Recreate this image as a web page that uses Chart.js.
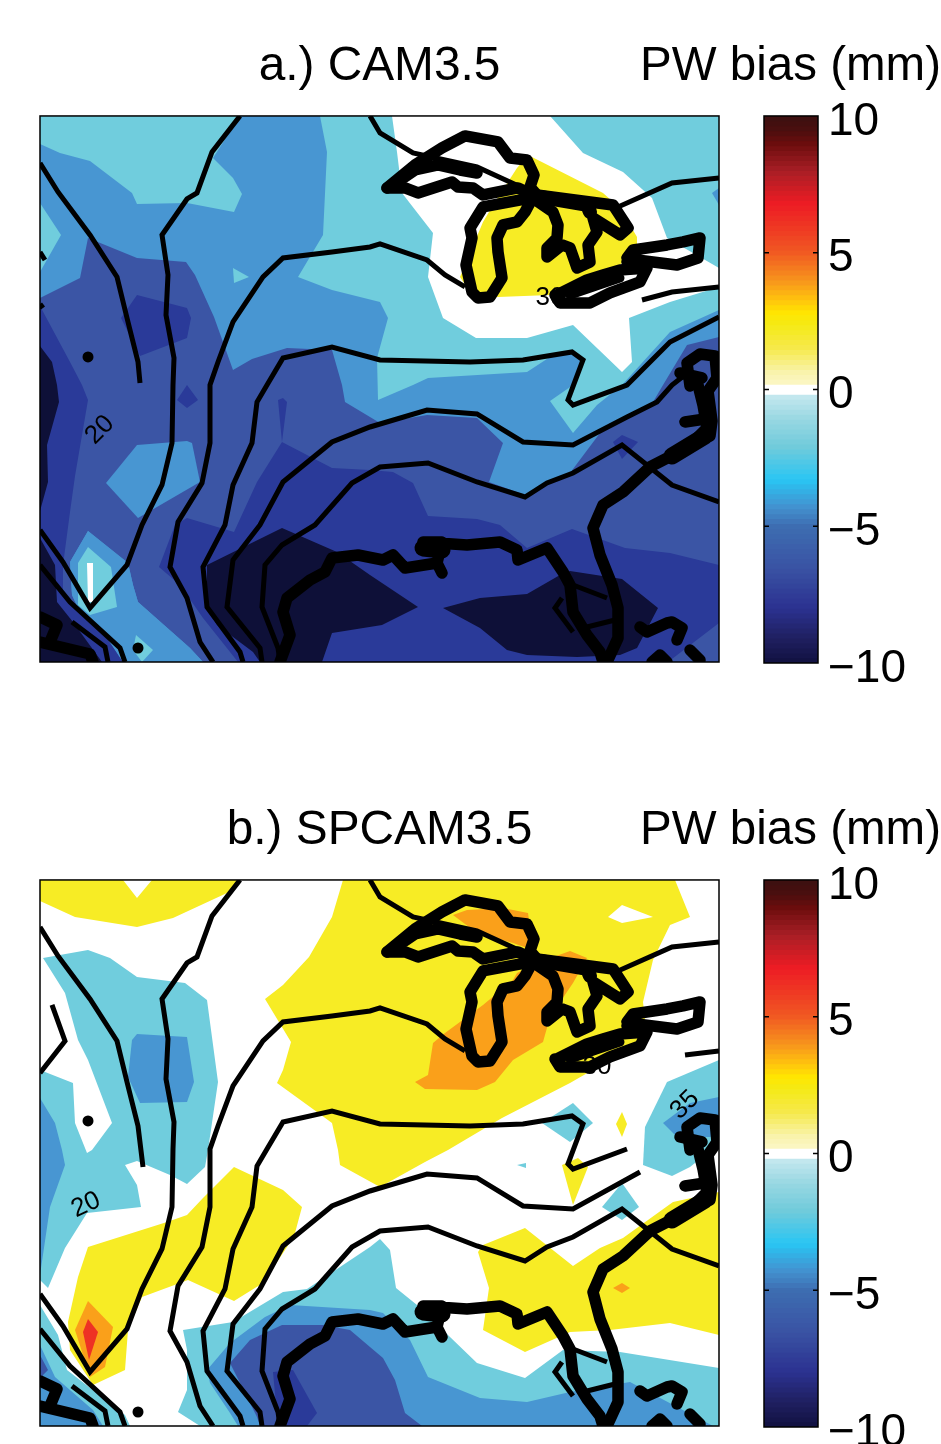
<!DOCTYPE html>
<html><head><meta charset="utf-8">
<script src="https://cdn.jsdelivr.net/npm/chart.js@4"></script>
<style>html,body{margin:0;padding:0;background:#fff;width:941px;height:1444px;overflow:hidden}
canvas{position:absolute;display:block}</style></head><body>
<canvas id="mapA" width="760" height="700" style="left:0;top:0"></canvas>
<canvas id="barA" width="301" height="720" style="left:640px;top:0"></canvas>
<canvas id="mapB" width="760" height="680" style="left:0;top:764px"></canvas>
<canvas id="barB" width="301" height="720" style="left:640px;top:764px"></canvas>
<script>
// ---------- PW bias filled regions, in map units (0-679 east, 0-546 south) ----------
const frame=[[0,0],[679,0],[679,546],[0,546]];
// panel a
const aWhite=[[352,0],[357,36],[362,77],[393,117],[388,161],[403,202],[436,222],[487,222],[533,209],[582,256],[592,246],[589,202],[630,186],[679,171],[679,152],[627,122],[612,82],[583,56],[543,37],[510,0]];
const aYellow=[[488,39],[563,77],[580,92],[597,121],[597,132],[583,146],[547,176],[510,179],[458,181],[430,176],[420,161],[443,106],[455,86],[477,52]];
const aBlue=[[200,0],[173,42],[193,62],[202,78],[194,96],[147,87],[97,88],[92,77],[50,45],[20,37],[0,28],[0,546],[679,546],[679,194],[630,216],[582,269],[557,289],[533,317],[510,285],[533,269],[543,244],[533,237],[510,241],[487,256],[388,262],[373,269],[338,284],[337,242],[348,202],[340,186],[292,174],[258,161],[283,119],[287,36],[280,0]];
const aBlueEdge=[[679,72],[672,77],[679,89]];
const aCyanLeft=[[0,87],[21,119],[0,156]];
const aCyanChip=[[193,152],[209,161],[194,167]];
const aMid=[[0,182],[40,162],[48,122],[97,142],[146,146],[155,159],[174,201],[193,254],[212,243],[247,232],[292,234],[302,269],[305,286],[340,307],[387,299],[437,302],[463,327],[449,366],[485,379],[530,357],[560,317],[613,286],[623,269],[647,229],[679,221],[679,546],[0,546]];
const aBlueSw=[[48,415],[88,447],[93,469],[98,486],[150,532],[163,546],[83,546],[67,522],[40,496],[32,479],[30,446]];
const aBlueCentre=[[97,329],[147,325],[152,327],[160,366],[98,402],[66,367]];
const aCyanDiamond=[[48,431],[71,451],[77,491],[50,499],[38,489],[38,447]];
const aWhiteStreak=[[47,447],[53,447],[53,486],[48,486]];
const aCyanSmall=[[96,519],[113,534],[102,546],[93,534]];
const aDeepWest=[[0,190],[30,246],[42,269],[48,284],[35,360],[30,396],[23,449],[23,480],[60,510],[83,546],[0,546]];
const aDeepIsle=[[97,179],[147,192],[151,202],[147,222],[100,240],[81,202]];
const aDeepChip1=[[147,269],[158,284],[147,292],[137,284]];
const aDeepChip2=[[238,284],[243,282],[247,286],[242,326]];
const aDeepChip3=[[573,326],[582,319],[598,326],[582,343]];
const aDeepMain=[[242,326],[292,352],[330,354],[353,356],[373,367],[388,400],[437,403],[460,409],[487,432],[532,413],[585,432],[630,437],[679,449],[679,507],[628,546],[198,546],[163,502],[140,469],[119,451],[135,409],[147,402],[194,416],[217,366]];
const aNavyWest1=[[0,230],[12,246],[17,269],[19,286],[7,329],[8,366],[0,395]];
const aNavyWest2=[[0,422],[15,449],[17,486],[33,506],[62,546],[0,546]];
const aNavyGulf=[[167,449],[242,412],[297,436],[330,459],[378,491],[342,509],[292,517],[282,546],[220,546],[213,536],[177,509],[167,492]];
const aNavyFlorida=[[403,492],[440,482],[487,478],[520,459],[530,455],[582,463],[618,492],[597,532],[580,539],[537,541],[487,539],[467,534],[440,512]];
// panel b
const bYellowNw=[[0,0],[83,0],[97,18],[112,0],[200,0],[187,13],[133,38],[97,47],[35,37],[0,21]];
const bYellowNorth=[[303,0],[292,37],[269,77],[243,105],[225,119],[251,162],[243,190],[237,203],[277,232],[292,243],[298,270],[300,285],[340,307],[385,282],[408,270],[462,238],[530,203],[570,180],[607,157],[603,122],[613,80],[630,45],[650,37],[635,0]];
const bWhiteChip=[[568,37],[582,25],[613,37],[582,43]];
const bOrangeMain=[[375,202],[388,195],[393,163],[405,153],[443,125],[473,100],[477,93],[497,83],[530,71],[547,78],[533,103],[510,137],[503,162],[473,180],[455,202],[437,210],[385,209]];
const bOrangeTop=[[413,35],[427,30],[463,28],[488,33],[490,47],[497,60],[487,68],[473,63],[437,53]];
const bCyanWest=[[3,78],[48,70],[70,78],[97,97],[145,103],[167,120],[178,202],[168,270],[165,287],[147,304],[130,295],[97,281],[85,285],[97,305],[101,327],[47,333],[25,368],[8,408],[0,400],[0,190],[33,203],[35,243],[47,273],[52,270],[72,243],[48,180],[38,160],[25,113]];
const bBlueWest=[[97,154],[147,157],[154,202],[147,222],[100,223],[88,197],[92,160]];
const bBlueEdge=[[0,218],[15,243],[22,270],[25,285],[10,327],[0,395]];
const bYellowSw=[[48,367],[127,342],[147,335],[163,318],[194,287],[243,310],[262,327],[255,353],[247,367],[223,403],[194,421],[148,400],[102,417],[88,450],[85,490],[53,505],[30,470],[28,442],[38,397]];
const bOrangeSw=[[48,421],[73,447],[65,487],[50,497],[35,450]];
const bRedSw=[[48,439],[58,452],[49,480],[43,452]];
const bCyanSouth=[[143,450],[193,442],[243,412],[267,409],[330,367],[340,359],[350,370],[356,408],[377,425],[410,457],[437,483],[485,498],[523,470],[580,472],[679,488],[679,546],[160,546],[138,532],[147,510],[147,470]];
const bBlueSouth=[[167,490],[190,463],[225,437],[250,425],[330,430],[343,433],[370,460],[388,497],[440,518],[487,522],[530,512],[590,502],[673,546],[198,546],[190,533],[170,503]];
const bMidSouth=[[190,483],[210,460],[242,445],[283,445],[310,450],[330,467],[343,478],[355,500],[365,533],[382,546],[220,546],[217,537]];
const bDeepSouth=[[233,492],[253,490],[277,533],[267,546],[238,546]];
const bCyanCorner=[[0,425],[18,455],[27,490],[85,535],[90,546],[0,546]];
const bBlueCorner=[[0,465],[15,497],[53,530],[63,546],[0,546]];
const bMidCorner=[[0,475],[8,490],[3,495],[0,505]];
const bCyanEast=[[679,180],[627,202],[605,247],[603,285],[632,296],[650,287],[665,275],[679,250]];
const bBlueEast=[[679,217],[650,223],[623,243],[637,257],[670,257],[679,254]];
const bYellowDiamond=[[582,232],[587,244],[582,257],[576,244]];
const bCyanLake=[[502,243],[533,223],[553,243],[530,262]];
const bYellowWedge=[[522,285],[533,325],[548,287],[538,278]];
const bCyanDot=[[477,285],[486,283],[486,288]];
const bCyanMid=[[582,303],[599,327],[582,340],[562,327]];
const bYellowSouth=[[443,365],[485,348],[533,386],[560,368],[583,358],[633,322],[679,312],[679,455],[630,443],[570,450],[530,452],[485,472],[443,450],[449,408],[438,372]];
const bOrangeDiamond=[[573,408],[582,403],[590,408],[582,413]];

// ---------- climatological PW contours (mm) ----------
const c20a=[[0,47],[18,76],[50,119],[77,161],[87,202],[98,246],[100,267]];
const c20b=[[0,47],[18,76],[50,119],[77,161],[87,202],[98,246],[103,287]];
const c25=[[200,0],[172,36],[157,77],[147,83],[122,119],[128,159],[126,199],[134,242],[133,269],[132,327],[122,369],[102,409],[87,449],[50,492],[23,446],[0,414]];
const c30w=[[425,171],[405,159],[387,144],[340,128],[330,131],[292,136],[243,142],[223,161],[193,206],[178,246],[170,269],[170,327],[162,367],[138,406],[130,451],[147,482],[160,526],[173,546]];
const c30n=[[330,0],[340,17],[373,37],[437,51],[483,72],[500,80],[578,91],[632,67],[679,62]];
const c35a=[[203,546],[200,536],[167,491],[163,451],[185,409],[193,369],[212,327],[217,286],[227,269],[243,242],[292,231],[340,244],[430,246],[483,244],[532,236],[543,244],[528,284],[533,289],[587,269],[630,226],[679,201]];
const c35b=[[203,546],[200,536],[167,491],[163,451],[185,409],[193,369],[212,327],[217,286],[227,269],[243,242],[292,231],[340,244],[430,246],[483,244],[532,236],[543,244],[528,284],[533,289],[587,269]];
const c40a=[[222,546],[220,532],[187,491],[193,444],[220,409],[243,366],[292,326],[330,311],[387,294],[437,298],[483,326],[533,329],[587,301],[617,286],[632,269],[650,255]];
const c40b=[[222,546],[220,532],[187,491],[193,444],[220,409],[243,366],[292,326],[330,311],[387,294],[437,298],[483,326],[533,329],[600,292]];
const c45=[[240,546],[238,532],[222,491],[225,449],[242,429],[275,409],[312,367],[340,351],[388,347],[437,366],[485,381],[507,367],[533,357],[582,329],[632,369],[679,386]];
const cSw1=[[0,449],[30,486],[80,532],[85,546]];
const cSw2=[[32,506],[65,531],[68,546]];
const cFloridaN=[[533,469],[567,482]];
const cFloridaS=[[543,512],[575,504]];
const cFloridaHook=[[522,482],[515,492],[533,516]];
const cNeA=[[602,184],[632,176],[679,171]];
const cNeB=[[645,175],[679,171]];
const cWestA=[[0,136],[5,144]];
const cWestB=[[12,125],[25,161],[0,193]];
const cWestStub=[[0,188],[3,192]];

// ---------- coastlines ----------
const superiorN=[[347,72],[375,49],[402,32],[425,20],[458,26],[470,42],[487,44],[494,59],[490,71],[497,79]];
const superiorS=[[347,72],[365,72],[378,77],[412,66],[418,71],[433,72],[443,79],[478,72],[493,79]];
const superiorIn=[[350,71],[375,54],[398,49],[420,54],[437,57]];
const michigan=[[497,81],[443,91],[430,112],[432,122],[426,149],[432,176],[438,182],[450,181],[462,162],[458,136],[457,122],[463,109],[477,106],[485,96],[493,81]];
const huron=[[497,85],[513,96],[518,109],[517,122],[507,132],[507,141],[522,129],[530,132],[537,152],[550,146],[548,129],[557,116],[553,102],[580,119],[588,112],[573,89],[497,79]];
const huronBand=[[500,81],[547,89],[550,96]];
const erie=[[517,179],[547,164],[563,159],[580,154],[607,152],[600,166],[570,177],[550,187],[520,187],[515,179]];
const erieIn=[[530,179],[580,162]];
const ontario=[[587,142],[593,134],[627,129],[643,126],[660,122],[658,142],[637,149],[597,144],[587,146]];
const eastCoast=[[658,269],[663,289],[667,312],[647,332],[610,351],[583,376],[563,389],[553,412],[560,439],[572,469],[578,492],[578,522],[567,546]];
const gulfCoast=[[240,546],[250,519],[243,496],[247,482],[270,464],[285,456],[292,442],[318,439],[343,444],[353,439],[365,452],[397,447],[402,426],[383,426],[427,429],[460,426],[477,434],[478,444],[507,432],[523,456],[530,469],[533,496],[547,519],[560,536],[563,546]];
const gulfBlob=[[397,447],[402,457]];
const gulfBlobWide=[[383,432],[402,434]];
const chesapeake=[[650,270],[647,247],[660,238],[675,240],[677,262],[668,275],[672,305],[670,320]];
const chesapeakeIn=[[640,257],[662,262]];
const delaware=[[645,306],[665,303]];
const capeFear=[[632,340],[665,320]];
const bahamas=[[600,511],[607,516],[627,507],[632,506],[642,512],[637,524]];
const cubaE=[[650,534],[660,544]];
const cubaW=[[612,546],[620,539],[627,546]];
const mexicoA=[[0,501],[17,509],[10,526]];
const mexicoB=[[0,526],[50,538],[53,546]];
const dots=[[48,241],[98,532]];

// ---------- colour bar ----------
const barMin=-10, barMax=10, barBands=110;
const barStops=[-10,-9.1,-8,-6.5,-5,-4.3,-3.3,-2.1,-1.1,-0.21,-0.2,0.2,0.21,0.6,1.5,2.4,2.8,3.3,4,5,5.7,6.8,8,9,9.5,10];
const barColors=['#111140','#1f1f60','#2b3190','#3a53a4','#3d6db1','#4391cf','#29c5f3','#70cbdb','#97d7e2','#c5e8ef','#ffffff','#ffffff','#fbf6c4','#f9f3b0','#f6e94c','#f5ea14','#ffe600','#ffc20e','#f7941d','#f15a22','#ef4023','#ed1c24','#a81e25','#6b0d0d','#4a0f0f','#3b1010'];
const barTicks=[-10,-5,0,5,10];
const FONT='"Liberation Sans", Helvetica, Arial, sans-serif';

const C={white:'#ffffff',cyan:'#70cddd',blue:'#4896d2',mid:'#3b55a5',deep:'#2a3a99',navy:'#0e1038',yellow:'#f7ec25',orange:'#faa01a',red:'#ee3124'};
const pts=a=>a.map(p=>({x:p[0],y:p[1]}));
const area=(col,a)=>({type:'scatter',showLine:true,data:pts(a),fill:'shape',backgroundColor:C[col],borderWidth:0,borderColor:C[col],pointRadius:0,clip:0,tension:0});
const line=(a,w,cap)=>({type:'scatter',showLine:true,data:pts(a),fill:false,borderColor:'#000',borderWidth:w,borderJoinStyle:cap?'round':'miter',borderCapStyle:cap?'round':'butt',pointRadius:0,clip:0,tension:0});

const coast=[superiorN,superiorS,superiorIn,michigan,huron,erie,ontario,eastCoast,gulfCoast,chesapeake,chesapeakeIn,delaware,bahamas,cubaE,cubaW,mexicoA,mexicoB,gulfBlob].map(a=>line(a,11.5,true)).concat([line(huronBand,14,true),line(erieIn,9,true),line(gulfBlobWide,17,true),line(capeFear,17,true)]);
const dotSet={type:'scatter',data:pts(dots),pointRadius:5.5,pointBackgroundColor:'#000',pointBorderWidth:0,showLine:false,clip:0};

const panelA={title:'a.) CAM3.5',bottom:38,
 areas:[area('cyan',frame),area('white',aWhite),area('yellow',aYellow),area('blue',aBlue),area('blue',aBlueEdge),area('cyan',aCyanLeft),area('cyan',aCyanChip),area('mid',aMid),area('blue',aBlueSw),area('blue',aBlueCentre),area('cyan',aCyanDiamond),area('white',aWhiteStreak),area('cyan',aCyanSmall),area('deep',aDeepWest),area('blue',aBlueSw),area('cyan',aCyanDiamond),area('white',aWhiteStreak),area('cyan',aCyanSmall),area('deep',aDeepIsle),area('deep',aDeepChip1),area('deep',aDeepChip2),area('deep',aDeepChip3),area('deep',aDeepMain),area('navy',aNavyWest1),area('navy',aNavyWest2),area('navy',aNavyGulf),area('navy',aNavyFlorida)],
 contours:[c20a,c25,c30w,c30n,c35a,c40a,c45,cSw1,cSw2,cFloridaN,cFloridaS,cFloridaHook,cNeA,cWestA,cWestStub],
 labels:[['20',60,314,-45],['30',510,182,0]]};
const panelB={title:'b.) SPCAM3.5',bottom:18,
 areas:[area('white',frame),area('yellow',bYellowNw),area('yellow',bYellowNorth),area('white',bWhiteChip),area('orange',bOrangeMain),area('orange',bOrangeTop),area('cyan',bCyanWest),area('blue',bBlueWest),area('blue',bBlueEdge),area('yellow',bYellowSw),area('orange',bOrangeSw),area('red',bRedSw),area('cyan',bCyanSouth),area('blue',bBlueSouth),area('mid',bMidSouth),area('deep',bDeepSouth),area('cyan',bCyanCorner),area('blue',bBlueCorner),area('mid',bMidCorner),area('cyan',bCyanEast),area('blue',bBlueEast),area('yellow',bYellowDiamond),area('cyan',bCyanLake),area('yellow',bYellowWedge),area('cyan',bCyanDot),area('cyan',bCyanMid),area('yellow',bYellowSouth),area('orange',bOrangeDiamond)],
 contours:[c20b,c25,c30w,c30n,c35b,c40b,c45,cSw1,cSw2,cFloridaN,cFloridaS,cFloridaHook,cNeB,cWestB],
 labels:[['20',46,325,-25],['30',557,187,0],['35',645,225,-45]]};

const TITLE_FONT={family:FONT,size:47.8,weight:'normal',lineHeight:1.2};
const TITLE_PAD={top:38.5,bottom:20.1};
function drawMap(id,p){
 const ds=[...p.areas,...p.contours.map(a=>line(a,5,false))];
 const labelAt=ds.length-1;
 ds.push(...coast.map(d=>({...d})),{...dotSet});
 const n=ds.length; ds.forEach((d,i)=>d.order=n-i);
 new Chart(document.getElementById(id),{type:'scatter',data:{datasets:ds},
  plugins:[{id:'extras',
   afterDatasetDraw(ch,args){ if(args.index!==labelAt) return;
     const c=ch.ctx; c.save(); c.fillStyle='#000'; c.font='26px '+FONT; c.textAlign='center'; c.textBaseline='middle';
     for(const [t,x,y,r] of p.labels){ c.save(); c.translate(ch.scales.x.getPixelForValue(x),ch.scales.y.getPixelForValue(y)); c.rotate(r*Math.PI/180); c.fillText(t,0,0); c.restore(); }
     c.restore(); },
   afterDraw(ch){ const a=ch.chartArea,c=ch.ctx; c.save(); c.strokeStyle='#000'; c.lineWidth=1.5; c.strokeRect(a.left,a.top,a.right-a.left,a.bottom-a.top); c.restore(); }}],
  options:{responsive:false,animation:false,events:[],
   layout:{padding:{left:40,right:41,top:0,bottom:p.bottom}},
   plugins:{legend:{display:false},tooltip:{enabled:false},
    title:{display:true,text:p.title,fullSize:false,color:'#000',font:TITLE_FONT,padding:TITLE_PAD}},
   scales:{x:{type:'linear',min:0,max:679,display:false},y:{type:'linear',min:0,max:546,reverse:true,display:false}}}});
}
function hex(c){return [1,3,5].map(i=>parseInt(c.substr(i,2),16));}
function colorAt(v){ let i=0; while(i<barStops.length-2&&v>barStops[i+1]) i++;
 const t=Math.min(1,Math.max(0,(v-barStops[i])/(barStops[i+1]-barStops[i]))),a=hex(barColors[i]),b=hex(barColors[i+1]);
 return 'rgb('+a.map((x,k)=>Math.round(x+(b[k]-x)*t)).join(',')+')'; }
function drawBar(id){
 const step=(barMax-barMin)/barBands, sets=[];
 for(let i=0;i<barBands;i++){ const lo=barMin+i*step; sets.push({data:[[lo,Math.min(barMax,lo+step*1.5)]],backgroundColor:colorAt(lo+step/2),borderWidth:0,order:barBands-i}); }
 new Chart(document.getElementById(id),{type:'bar',data:{labels:['PW bias'],datasets:sets},
  plugins:[{id:'barFrame',afterDraw(ch){ const a=ch.chartArea,c=ch.ctx,s=ch.scales.y; c.save(); c.strokeStyle='#000'; c.lineWidth=1.5; c.strokeRect(a.left,a.top,a.right-a.left,a.bottom-a.top);
    for(const t of barTicks){ if(t===barMin||t===barMax) continue; const y=s.getPixelForValue(t); c.beginPath(); c.moveTo(a.left,y); c.lineTo(a.left+5,y); c.moveTo(a.right,y); c.lineTo(a.right-5,y); c.stroke(); }
    c.restore(); }}],
  options:{responsive:false,animation:false,events:[],
   layout:{padding:{left:0,right:0,top:0,bottom:57}},
   datasets:{bar:{grouped:false,barPercentage:1,categoryPercentage:1}},
   plugins:{legend:{display:false},tooltip:{enabled:false},
    title:{display:true,text:'PW bias (mm)',align:'end',color:'#000',font:TITLE_FONT,padding:TITLE_PAD}},
   scales:{x:{display:false},
    spacer:{axis:'y',type:'linear',position:'left',min:barMin,max:barMax,afterFit(s){s.width=124;},border:{display:false},grid:{display:false,drawTicks:false},ticks:{display:false}},
    y:{position:'right',min:barMin,max:barMax,afterFit(s){s.width=123;},border:{display:false},grid:{display:false,drawTicks:false},
     afterBuildTicks(s){s.ticks=barTicks.map(v=>({value:v}));},
     ticks:{color:'#000',padding:10,labelOffset:6,autoSkip:false,maxRotation:0,font:{family:FONT,size:46},callback:v=>v<0?'\u2212'+Math.abs(v):String(v)}}}}});
}
drawMap('mapA',panelA); drawBar('barA');
drawMap('mapB',panelB); drawBar('barB');
</script></body></html>
